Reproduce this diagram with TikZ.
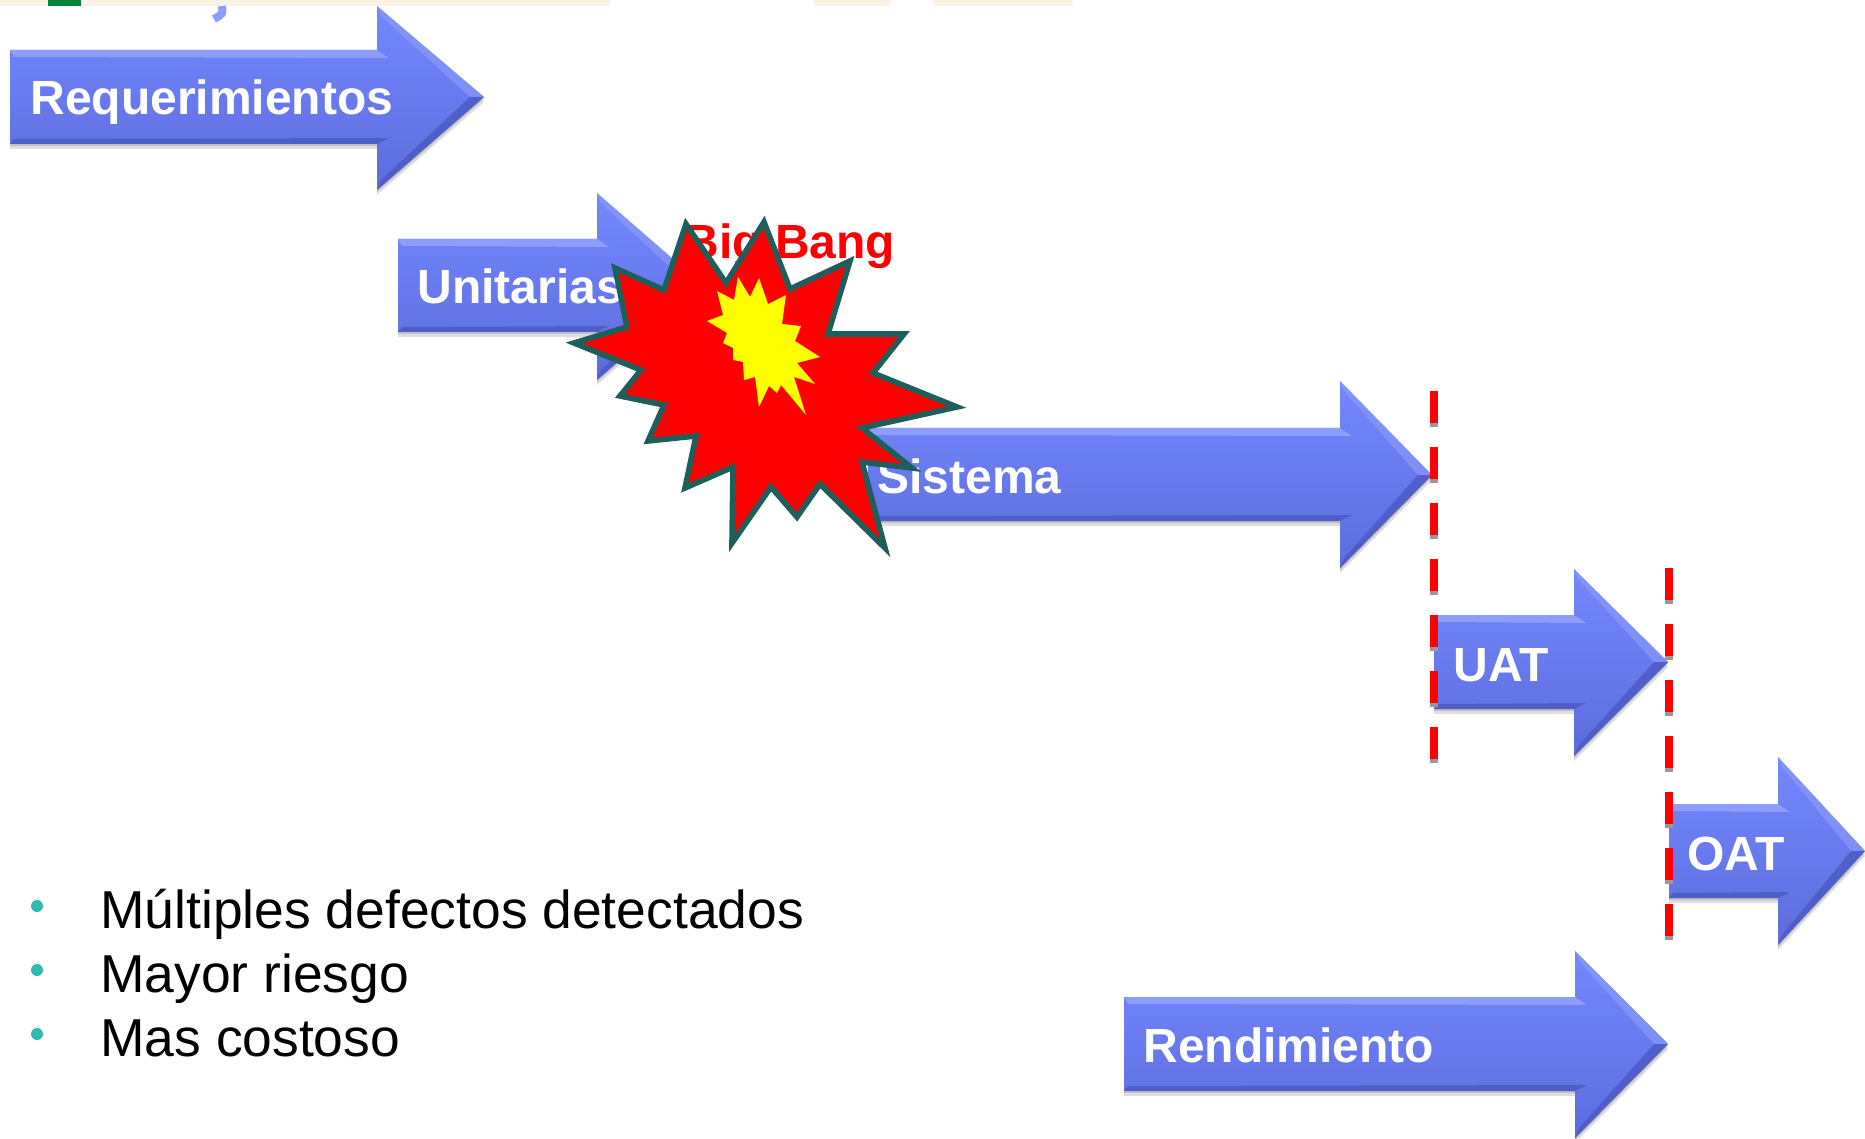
\documentclass[tikz,border=0pt]{standalone}
\usepackage{fontspec}
\setmainfont{Liberation Sans}
\definecolor{bodytop}{HTML}{7488FF}
\definecolor{bodybot}{HTML}{5C6CDC}
\definecolor{bevellight}{HTML}{8C9DFF}
\definecolor{beveldark}{HTML}{4C5AC0}
\definecolor{burstline}{HTML}{1F5F5B}
\definecolor{burstcore}{RGB}{255,255,0}
\definecolor{burstred}{RGB}{255,0,0}
\definecolor{bullet}{HTML}{2FB8AE}
\definecolor{strip}{HTML}{FBF3E6}
\definecolor{stripgreen}{HTML}{00843D}
\tikzset{>=stealth,
  phasebody/.style={top color=bodytop,bottom color=bodybot,draw=none},
  phaseshadow/.style={fill=black,opacity=0.13,draw=none},
  phaselabel/.style={text=white,font=\fontsize{24}{24}\selectfont\bfseries,inner sep=0pt,anchor=base west},
  bulletlabel/.style={text=black,font=\fontsize{26.7}{26.7}\selectfont,inner sep=0pt,anchor=base west},
  bulletdot/.style={circle,fill=bullet,inner sep=0pt,minimum size=6pt},
  gatedash/.style={burstred,line width=4.2pt,dash pattern=on 16pt off 12pt},
  gateshadow/.style={black!40,line width=4.2pt,dash pattern=on 16pt off 12pt,transform canvas={yshift=-2pt}}}
% name, left, body top, body bottom, head x, head top, head bottom, tip x, tip y
\newcommand{\phasearrow}[9]{
  \coordinate (#1-a) at (#2,#3);
  \coordinate (#1-b) at (#5,#3);
  \coordinate (#1-c) at (#5,#6);
  \coordinate (#1-d) at (#8,#9);
  \coordinate (#1-e) at (#5,#7);
  \coordinate (#1-f) at (#5,#4);
  \coordinate (#1-g) at (#2,#4);
  \fill[phaseshadow,transform canvas={yshift=-1pt}] (#1-a)--(#1-b)--(#1-c)--(#1-d)--(#1-e)--(#1-f)--(#1-g)--cycle;
  \fill[phaseshadow,transform canvas={yshift=-2.5pt}] (#1-a)--(#1-b)--(#1-c)--(#1-d)--(#1-e)--(#1-f)--(#1-g)--cycle;
  \path[phasebody] (#1-a)--(#1-b)--(#1-c)--(#1-d)--(#1-e)--(#1-f)--(#1-g)--cycle;
  \fill[bevellight] (#1-a)--(#1-b)--([shift={(12,8)}]#1-b)--([shift={(4,7)}]#1-a)--cycle;
  \fill[bevellight,opacity=0.6] (#1-c)--(#1-d)--([xshift=-7]#1-d)--([shift={(4,10)}]#1-c)--cycle;
  \fill[beveldark,opacity=0.8] (#1-g)--(#1-f)--([shift={(12,-6)}]#1-f)--([shift={(4,-5)}]#1-g)--cycle;
  \fill[beveldark,opacity=0.8] (#1-e)--(#1-d)--([xshift=-7]#1-d)--([shift={(4,-10)}]#1-e)--cycle;
}
\begin{document}
\begin{tikzpicture}[x=0.5pt,y=-0.5pt]
\useasboundingbox (0,0) rectangle (1865,1139);
% leftovers of the slide above
\fill[strip] (0,0) rectangle (610,6);
\fill[strip] (814,0) rectangle (891,6);
\fill[strip] (933,0) rectangle (1073,6);
\fill[stripgreen] (48,0) rectangle (81,6);
\draw[line width=4pt,color=bevellight] (222,6) .. controls (223,14) .. (214,19);

\phasearrow{req}{10}{50}{144}{377}{6}{190}{484}{97}
\phasearrow{uni}{398}{239}{332}{597}{193}{380}{704}{286}
\phasearrow{sis}{868}{428}{521}{1340}{381}{568}{1432}{475}
\phasearrow{uat}{1434}{615}{709}{1574}{569}{756}{1668}{662}
\phasearrow{oat}{1669}{804}{898}{1778}{757}{945}{1865}{851}
\phasearrow{ren}{1124}{997}{1091}{1575}{951}{1138}{1668}{1044}

\node[phaselabel] (lblreq) at (30,115) {Requerimientos};
\node[phaselabel] (lbluni) at (417,304) {Unitarias};
\node[phaselabel] (lblsis) at (877,494) {Sistema};
\node[phaselabel] (lbluat) at (1453,681) {UAT};
\node[phaselabel] (lbloat) at (1687,870) {OAT};
\node[phaselabel] (lblren) at (1143,1062) {Rendimiento};

\node[phaselabel,text=burstred] (lblbang) at (684,259) {Big Bang};

% explosion
\draw[fill=burstred,draw=burstline,line width=2.8pt,miter limit=20]
  (574,343)--(627,327)--(615,268)--(664,290)--(686,224)--(726,283)--(764,222)--(790,289)
  --(850,261)--(828,334)--(904,334)--(873,373)--(957,407)--(862,428)--(912,468)--(862,462)
  --(885,548)--(820,484)--(797,517)--(771,487)--(732,543)--(733,467)--(685,488)--(696,436)
  --(648,441)--(664,405)--(620,396)--(641,370)--cycle;
\fill[burstcore]
  (738,277)--(750,297)--(759,278)--(768,304)--(786,295)--(782,324)--(801,326)--(795,341)
  --(820,357)--(797,363)--(815,384)--(794,377)--(806,415)--(781,385)--(777,393)--(769,386)
  --(759,407)--(755,377)--(744,380)--(743,362)--(733,360)--(733,348)--(723,343)--(727,333)
  --(707,321)--(723,315)--(717,291)--(734,300)--cycle;

% gates
\coordinate (gateatop) at (1434,391);
\coordinate (gateabot) at (1434,762);
\coordinate (gatebtop) at (1669,568);
\coordinate (gatebbot) at (1669,936);
\draw[gateshadow] (gateatop)--(gateabot);
\draw[gateshadow] (gatebtop)--(gatebbot);
\draw[gatedash] (gateatop)--(gateabot);
\draw[gatedash] (gatebtop)--(gatebbot);

\node[bulletdot] (dota) at (37,906) {};
\node[bulletdot] (dotb) at (37,970) {};
\node[bulletdot] (dotc) at (37,1034) {};
\node[bulletlabel] (itema) at (100,928) {Múltiples defectos detectados};
\node[bulletlabel] (itemb) at (100,992) {Mayor riesgo};
\node[bulletlabel] (itemc) at (100,1056) {Mas costoso};
\end{tikzpicture}
\end{document}
